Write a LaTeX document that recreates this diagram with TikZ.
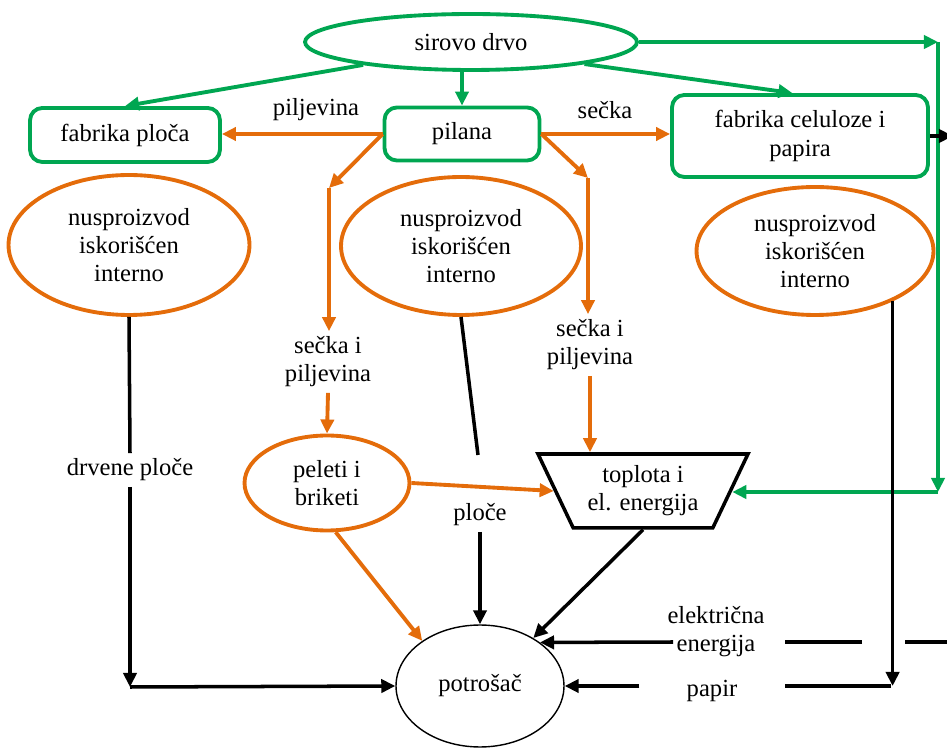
\documentclass[tikz,border=0pt]{standalone}
\usepackage{fontspec}
\setmainfont{LiberationSerif}[Extension=.ttf, UprightFont=*-Regular, BoldFont=*-Bold]
\usepackage{tikz}
\usetikzlibrary{arrows.meta,positioning,shapes.geometric}
\definecolor{zelena}{RGB}{0,166,81}
\definecolor{narandz}{RGB}{228,108,10}

\begin{document}
\begin{tikzpicture}[x=0.02cm, y=-0.02cm,
    txt/.style={font=\rmfamily\fontsize{14}{16}\selectfont, align=center, inner sep=3pt},
    fabrika/.style={txt, draw=zelena, line width=2.2pt, rounded corners=7pt},
    nusp/.style={txt, ellipse, draw=narandz, line width=2.2pt},
    tip/.style={-{Triangle[length=8pt,width=7.5pt]}},
    zel/.style={tip, draw=zelena, line width=2.2pt},
    nar/.style={tip, draw=narandz, line width=2.2pt},
    crn/.style={draw=black, line width=2pt}]
            \useasboundingbox (0,0) rectangle (947,749);
            \clip (0,0) rectangle (947,749);
            % cvorovi
            \node[nusp, draw=zelena, minimum width=6.64cm, minimum height=1.12cm] (sd) at (471,42) {sirovo drvo};
            \node[fabrika, minimum width=3.8cm, minimum height=1.08cm] (fp) at (125,135) {fabrika ploča};
            \node[fabrika, minimum width=3.1cm, minimum height=1.06cm] (pl) at (462,134) {pilana};
            \node[fabrika, minimum width=5.12cm, minimum height=1.64cm] (fc) at (800,136) {fabrika celuloze i\\papira};
            \node[txt] (pj) at (316,110) {piljevina};
            \node[txt] (sc) at (605,110) {sečka};
            \node[nusp, minimum width=4.82cm, minimum height=2.8cm] (nl) at (129,245) {nusproizvod\\iskorišćen\\interno};
            \node[nusp, minimum width=4.8cm, minimum height=2.76cm] (ml) at (461,246) {nusproizvod\\iskorišćen\\interno};
            \node[nusp, minimum width=4.74cm, minimum height=2.56cm] (rl) at (815,251) {nusproizvod\\iskorišćen\\interno};
            \node[txt] (sp1) at (328,362) {sečka i\\piljevina};
            \node[txt] (sp2) at (590,345) {sečka i\\piljevina};
            \node[nusp, minimum width=3.3cm, minimum height=1.9cm] (pb) at (327,483) {peleti i\\briketi};
            \node[txt, trapezium, trapezium angle=60, shape border rotate=180, trapezium stretches body,
                  draw, line width=2pt, minimum width=4.2cm, minimum height=1.48cm] (tpl) at (643,491) {toplota i\\el. energija};
            \node[txt] (dp) at (130,470) {drvene ploče};
            \node[txt] (pc) at (480,515) {ploče};
            \node[txt, ellipse, draw, line width=0.8pt, minimum width=3.36cm, minimum height=2.44cm] (pt) at (480,686) {potrošač};
            \node[txt, inner xsep=0.94cm] (pa) at (712,691) {papir};
            \node[txt] (ee) at (716,632) {električna\\energija};
            % pomocne tacke
            \coordinate (ne) at (938,42);
            \coordinate (se) at (938,492);
            \coordinate (ol1) at (329,188);
            \coordinate (or1) at (588,178);
            \coordinate (mlend) at (478,455);
            \coordinate (bl) at (130,687);
            \coordinate (br) at (891,686);
            \coordinate (fcx) at (953,136);
            \coordinate (e1) at (960,642);
            \coordinate (e2) at (905,642);
            \coordinate (e3) at (862,642);
            \coordinate (e4) at (785,642);
            \coordinate (e5) at (673,642);
            % zelene veze
            \draw[zel] (sd.192) -- (fp.north);
            \draw[zel] (sd.south -| pl.north) -- (pl.north);
            \draw[zel] (sd.-11) -- (fc.100);
            \draw[zel] (sd.east) -- (ne);
            \draw[zel] (ne) -- (se);
            \draw[zel] (se) -- (se -| tpl.east);
            % narandzaste veze
            \draw[nar] (pl.west) -- (pl.west -| fp.east);
            \draw[nar] (pl.east) -- (pl.east -| fc.west);
            \draw[nar] (pl.west) -- (ol1);
            \draw[nar] (ol1) -- (ol1 |- sp1.north);
            \draw[nar] (sp1.south) -- (pb.north);
            \draw[nar] (pl.east) -- (or1);
            \draw[nar] (or1) -- (or1 |- sp2.north);
            \draw[nar] (sp2.south) -- (sp2.south |- tpl.north);
            \draw[nar] (pb.east) -- (tpl.west);
            \draw[nar] (pb.-80) -- (pt.142);
            % crne veze
            \draw[crn] (nl.south) -- (dp.north);
            \draw[crn, tip] (dp.south) -- (bl);
            \draw[crn, tip] (bl) -- (pt.west);
            \draw[crn] (ml.south) -- (mlend);
            \draw[crn, tip] (pc.south) -- (pt.north);
            \draw[crn, tip] (tpl.south) -- (pt.42);
            \draw[crn, tip] (rl.-33) -- (rl.-33 |- br);
            \draw[crn] (br) -- (pa.east |- br);
            \draw[crn, tip] (pa.west |- br) -- (pt.east);
            \draw[crn, tip] (fc.east) -- (fcx);
            \draw[crn] (e1) -- (e2);
            \draw[crn] (e3) -- (e4);
            \draw[crn, tip] (e5) -- (pt.36);
        \end{tikzpicture}
\end{document}
